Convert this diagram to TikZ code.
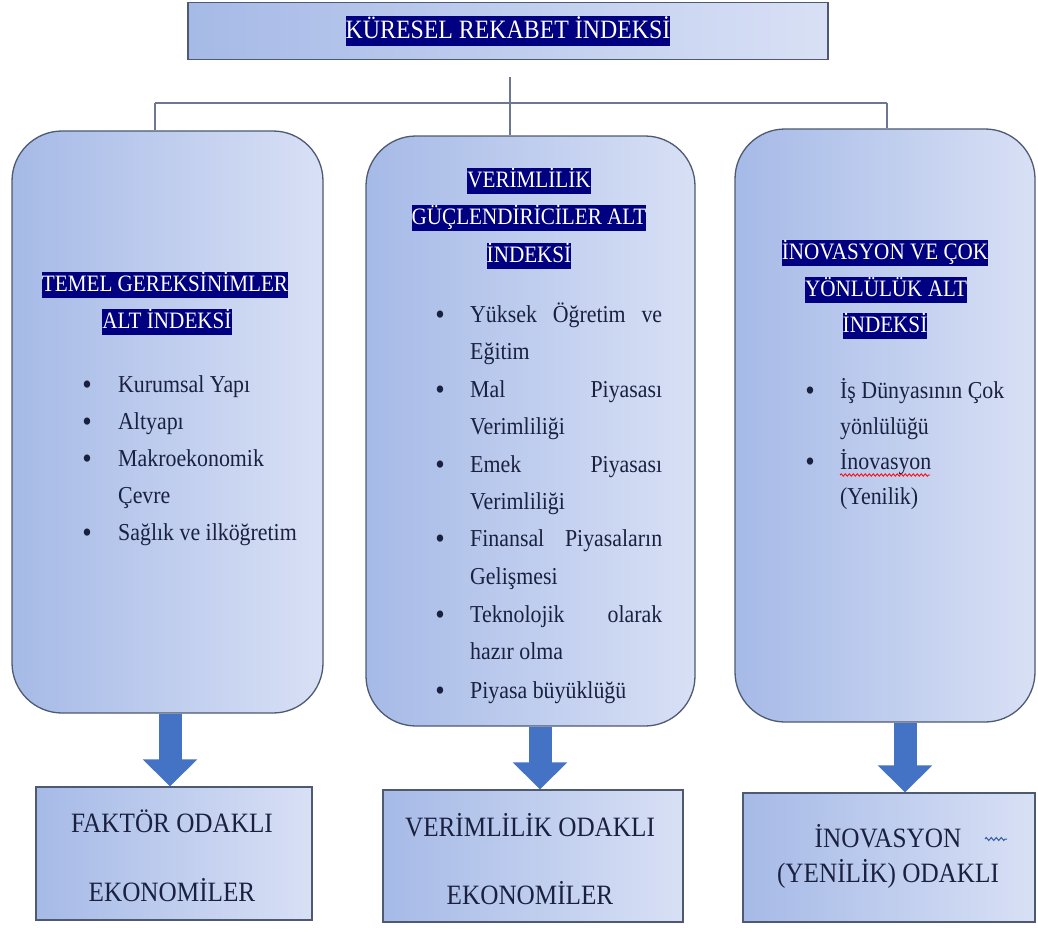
\documentclass[tikz,border=0pt]{standalone}
\usepackage{fontspec}
\setmainfont[FakeStretch=0.9]{Liberation Serif}
\usetikzlibrary{arrows.meta,decorations.pathmorphing}
\definecolor{boxL}{HTML}{A6BAE7}
\definecolor{boxR}{HTML}{D8E0F5}
\definecolor{edge}{HTML}{4D5A72}
\definecolor{wirec}{HTML}{6E7790}
\definecolor{hlnavy}{HTML}{000080}
\definecolor{ink}{HTML}{1A2140}
\definecolor{arrowblue}{HTML}{4472C4}
% white heading text on a navy highlight
\newcommand{\hlbox}[1]{{\setlength{\fboxsep}{0pt}\colorbox{hlnavy}{\strut\textcolor{white}{#1}}}}
\begin{document}
\begin{tikzpicture}[x=1pt,y=-1pt,
  panel/.style={draw=edge, line width=1.3pt, left color=boxL, right color=boxR, rounded corners=50pt, inner sep=0pt},
  result/.style={draw=edge, line width=1.3pt, left color=boxL, right color=boxR, inner sep=0pt},
  head/.style={inner sep=0pt, font=\fontsize{23.5}{23}\selectfont},
  item/.style={inner sep=0pt, anchor=base west, text=ink, font=\fontsize{24.3}{27}\selectfont},
  dot/.style={inner sep=0pt, anchor=base, text=ink, font=\fontsize{30}{30}\selectfont},
  big/.style={inner sep=0pt, anchor=base, text=ink, font=\fontsize{28}{30}\selectfont},
  wire/.style={draw=wirec, line width=1.3pt},
  fat/.style={draw=arrowblue, line width=23pt, -{Triangle[width=53pt,length=27pt]}}
]
\useasboundingbox (0,0) rectangle (1038,931);

% title box
\node[result, minimum width=640pt, minimum height=57pt, font=\fontsize{26.5}{26}\selectfont] (top) at (508,31) {\hlbox{KÜRESEL REKABET İNDEKSİ}};

% three sub-index panels
\node[panel, minimum width=311pt, minimum height=582pt] (lft) at (167.5,422) {};
\node[panel, minimum width=329pt, minimum height=590pt] (mid) at (530.5,431) {};
\node[panel, minimum width=300pt, minimum height=593pt] (rgt) at (885,425.5) {};

% result boxes
\node[result, minimum width=276pt, minimum height=133pt] (fak) at (174,853.5) {};
\node[result, minimum width=300pt, minimum height=132pt] (ver) at (533,856) {};
\node[result, minimum width=292pt, minimum height=129pt] (inv) at (889,857.5) {};

% tree connectors
\coordinate (hub) at (510,77);
\coordinate (bl) at (155,103);
\coordinate (br) at (887,103);
\draw[wire] (bl) -- (br);
\draw[wire] (hub) -- (hub |- mid.north);
\draw[wire] (bl) -- (bl |- lft.north);
\draw[wire] (br) -- (br |- rgt.north);

% block arrows
\draw[fat] ([xshift=2.5pt]lft.south) -- ([xshift=-4pt]fak.north);
\draw[fat] ([xshift=9.5pt]mid.south) -- ([xshift=7pt]ver.north);
\draw[fat] ([xshift=20pt]rgt.south) -- ([xshift=16pt]inv.north);

% left panel
\node[head] (l1) at (165,285) {\hlbox{TEMEL GEREKSİNİMLER}};
\node[head] (l2) at (167,322) {\hlbox{ALT İNDEKSİ}};
\node[dot] (lb1) at (87,394) {•};
\node[item] (lt1) at (118,392) {Kurumsal Yapı};
\node[dot] (lb2) at (87,431) {•};
\node[item] (lt2) at (118,429) {Altyapı};
\node[dot] (lb3) at (87,468) {•};
\node[item] (lt3) at (118,466) {Makroekonomik};
\node[item] (lt4) at (118,503) {Çevre};
\node[dot] (lb5) at (87,542) {•};
\node[item] (lt5) at (118,540) {Sağlık ve ilköğretim};

% middle panel
\node[head] (m1) at (529,181) {\hlbox{VERİMLİLİK}};
\node[head] (m2) at (529,218) {\hlbox{GÜÇLENDİRİCİLER ALT}};
\node[head] (m3) at (529,256) {\hlbox{İNDEKSİ}};
\node[dot] (mb1) at (440,324) {•};
\node[item] (mt1) at (470,322) {\makebox[192pt][l]{Yüksek\hfill Öğretim\hfill ve}};
\node[item] (mt2) at (470,359) {Eğitim};
\node[dot] (mb3) at (440,399) {•};
\node[item] (mt3) at (470,397) {\makebox[192pt][l]{Mal\hfill Piyasası}};
\node[item] (mt4) at (470,434) {Verimliliği};
\node[dot] (mb5) at (440,474) {•};
\node[item] (mt5) at (470,472) {\makebox[192pt][l]{Emek\hfill Piyasası}};
\node[item] (mt6) at (470,509) {Verimliliği};
\node[dot] (mb7) at (440,548) {•};
\node[item] (mt7) at (470,546) {\makebox[192pt][l]{Finansal\hfill Piyasaların}};
\node[item] (mt8) at (470,584) {Gelişmesi};
\node[dot] (mb9) at (440,624) {•};
\node[item] (mt9) at (470,622) {\makebox[192pt][l]{Teknolojik\hfill olarak}};
\node[item] (mt10) at (470,659) {hazır olma};
\node[dot] (mb11) at (440,700) {•};
\node[item] (mt11) at (470,698) {Piyasa büyüklüğü};

% right panel
\node[head] (r1) at (885,253) {\hlbox{İNOVASYON VE ÇOK}};
\node[head] (r2) at (886,290) {\hlbox{YÖNLÜLÜK ALT}};
\node[head] (r3) at (885,326) {\hlbox{İNDEKSİ}};
\node[dot] (rb1) at (810,400) {•};
\node[item] (rt1) at (840,398) {İş Dünyasının Çok};
\node[item] (rt2) at (840,434) {yönlülüğü};
\node[dot] (rb3) at (810,471) {•};
\node[item] (rt3) at (840,469) {İnovasyon};
\node[item] (rt4) at (840,504) {(Yenilik)};
\draw[red, line width=0.8pt, decorate, decoration={snake, amplitude=1.2pt, segment length=4pt}] (840,475) -- (930,475);

% result texts
\node[big] (f1) at (172,832) {FAKTÖR ODAKLI};
\node[big] (f2) at (172,901) {EKONOMİLER};
\node[big] (v1) at (530,836) {VERİMLİLİK ODAKLI};
\node[big] (v2) at (530,904) {EKONOMİLER};
\node[big] (i1) at (888,847) {İNOVASYON};
\node[big] (i2) at (888,882) {(YENİLİK) ODAKLI};
\draw[arrowblue!80!black, line width=1pt, decorate, decoration={zigzag, amplitude=1.5pt, segment length=5pt}] (985,839) -- (1007,839);
\end{tikzpicture}
\end{document}
